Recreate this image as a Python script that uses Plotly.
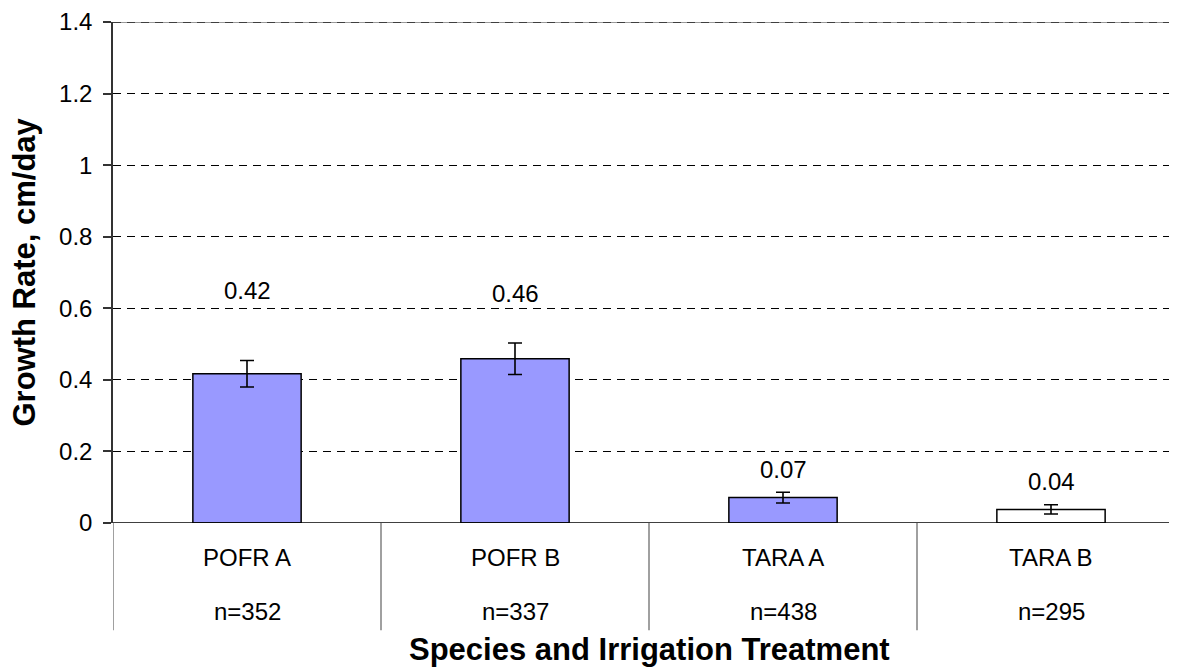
import plotly.graph_objects as go

# data
species = ["POFR A", "POFR B", "TARA A", "TARA B"]
sample_n = ["n=352", "n=337", "n=438", "n=295"]
growth_rate = [0.417, 0.459, 0.071, 0.038]
std_err = [0.037, 0.044, 0.015, 0.013]
value_text = ["0.42", "0.46", "0.07", "0.04"]
label_height = [0.649, 0.641, 0.150, 0.117]
bar_colors = ["#9999FF", "#9999FF", "#9999FF", "#FFFFFF"]
y_ticks = [0, 0.2, 0.4, 0.6, 0.8, 1.0, 1.2, 1.4]
y_ticktext = ["0", "0.2", "0.4", "0.6", "0.8", "1", "1.2", "1.4"]

FONT = "Liberation Sans, Arial, sans-serif"
LABEL_SIZE = 24
TITLE_SIZE = 31

fig = go.Figure()
fig.add_trace(go.Bar(
    x=list(range(len(species))),
    y=growth_rate,
    width=0.404,
    marker=dict(color=bar_colors, line=dict(color="black", width=1.5)),
    error_y=dict(type="data", array=std_err, color="black", thickness=1.6, width=7),
    hoverinfo="skip",
))

# value labels above bars
for i, (txt, h) in enumerate(zip(value_text, label_height)):
    fig.add_annotation(x=i, y=h, text=txt, showarrow=False, xref="x", yref="y",
                       yanchor="middle",
                       font=dict(family=FONT, size=LABEL_SIZE, color="black"))

# category labels + sample sizes under the axis
for i, (name, n) in enumerate(zip(species, sample_n)):
    fig.add_annotation(x=i, y=-0.069, text=name, showarrow=False, xref="x", yref="paper",
                       yanchor="middle",
                       font=dict(family=FONT, size=LABEL_SIZE, color="black"))
    fig.add_annotation(x=i, y=-0.176, text=n, showarrow=False, xref="x", yref="paper",
                       yanchor="middle",
                       font=dict(family=FONT, size=LABEL_SIZE, color="black"))

# category separators below the axis
for b in [-0.5, 0.5, 1.5, 2.5, 3.5]:
    fig.add_shape(type="line", xref="x", yref="paper", x0=b, x1=b, y0=0, y1=-0.214,
                  line=dict(color="#808080", width=1.5))

# top border: gray line with the dashed grid over it
fig.add_shape(type="line", xref="paper", yref="y", x0=0, x1=1, y0=1.4, y1=1.4,
              line=dict(color="#9a9a9a", width=2), layer="below")
fig.add_shape(type="line", xref="paper", yref="y", x0=0, x1=1, y0=1.4, y1=1.4,
              line=dict(color="#222222", width=1.5, dash="8px,6px"))

# zero line
fig.add_shape(type="line", xref="paper", yref="y", x0=0, x1=1, y0=0, y1=0,
              line=dict(color="black", width=1.5))

fig.add_annotation(x=0.5, y=-0.2515, xref="paper", yref="paper",
                   xanchor="center", yanchor="middle",
                   text="<b>Species and Irrigation Treatment</b>",
                   showarrow=False, font=dict(family=FONT, size=TITLE_SIZE, color="black"))
fig.add_annotation(x=-0.083, y=0.5, xref="paper", yref="paper", text="<b>Growth Rate, cm/day</b>",
                   xanchor="center", yanchor="middle",
                   showarrow=False, textangle=-90,
                   font=dict(family=FONT, size=TITLE_SIZE, color="black"))

fig.update_layout(
    width=1177, height=672,
    margin=dict(l=105, r=0, t=10, b=157),
    plot_bgcolor="white", paper_bgcolor="white",
    showlegend=False,
    font=dict(family=FONT, size=LABEL_SIZE, color="black"),
    xaxis=dict(range=[-0.5, 3.5], showticklabels=False, showgrid=False, zeroline=False,
               showline=False),
    yaxis=dict(range=[0, 1.4000001], tickvals=y_ticks, ticktext=y_ticktext,
               ticks="outside", ticklen=8, tickcolor="#333333", tickwidth=1.5,
               ticklabelstandoff=6, ticklabeloverflow="allow",
               showline=True, linecolor="#333333", linewidth=1.5,
               showgrid=True, gridcolor="black", gridwidth=1, griddash="8px,6px",
               zeroline=False, tickfont=dict(family=FONT, size=LABEL_SIZE)),
)

fig.write_html("out.html")
